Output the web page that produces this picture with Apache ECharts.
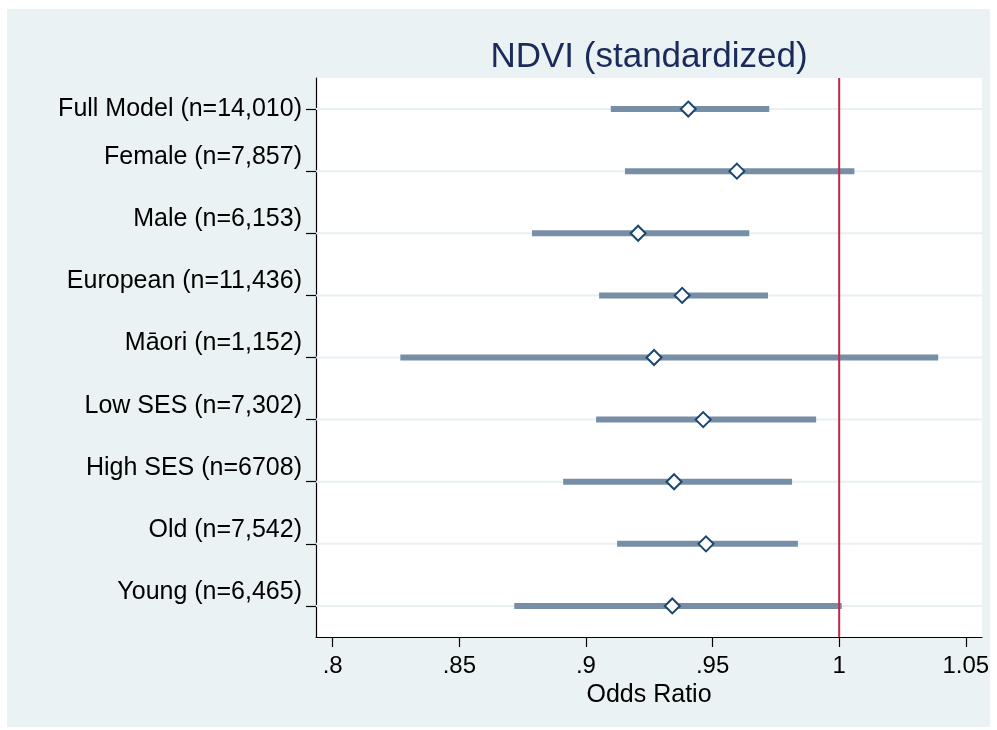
<!DOCTYPE html>
<html>
<head>
<meta charset="utf-8">
<script src="https://cdn.jsdelivr.net/npm/echarts@6/dist/echarts.min.js"></script>
<style>
html,body{margin:0;padding:0;background:#fff;}
#chart{width:997px;height:730px;}
</style>
</head>
<body>
<div id="chart"></div>
<script>
const categories = ['Full Model (n=14,010)','Female (n=7,857)','Male (n=6,153)','European (n=11,436)','Māori (n=1,152)','Low SES (n=7,302)','High SES (n=6708)','Old (n=7,542)','Young (n=6,465)'];
const oddsRatio = [0.9404,0.9596,0.9206,0.9380,0.9269,0.9463,0.9348,0.9474,0.9341];
const ciLow     = [0.9098,0.9154,0.8787,0.9052,0.8267,0.9040,0.8910,0.9123,0.8717];
const ciHigh    = [0.9724,1.0060,0.9645,0.9719,1.0391,0.9909,0.9814,0.9837,1.0010];
const xTicks = [0.8,0.85,0.9,0.95,1,1.05];
const refValue = 1;
const titleText = 'NDVI (standardized)';
const xName = 'Odds Ratio';

const FONT = '"Liberation Sans", Arial, sans-serif';
const chart = echarts.init(document.getElementById('chart'), null, {renderer:'canvas'});

function fmt(v){
  let s = String(+v.toFixed(2));
  if (s.startsWith('0.')) s = s.slice(1);
  return s;
}

const ciData = categories.map((c,i)=>[ciLow[i], ciHigh[i], i]);
const gridData = categories.map((c,i)=>[i]);

chart.setOption({
  backgroundColor: '#ffffff',
  animation: false,
  graphic: [{
    type:'rect', z:-10, silent:true,
    shape:{x:7,y:9,width:983,height:718},
    style:{fill:'#eaf2f3'}
  }],
  title: {
    text: titleText,
    left: 649, top: 40, textAlign: 'center', padding: 0,
    textStyle: {fontFamily: FONT, fontSize: 35, fontWeight: 'normal', color: '#1a2a5a'}
  },
  grid: {left:316, top:78, width:666, height:559, show:true, backgroundColor:'#ffffff', borderWidth:0, containLabel:false},
  xAxis: {
    type:'value', min:0.7934, max:1.0564,
    axisLine:{show:true, onZero:false, lineStyle:{color:'#000', width:1.2}},
    axisTick:{show:true, length:10, customValues: xTicks, lineStyle:{color:'#000', width:1.2}},
    axisLabel:{customValues: xTicks, formatter: fmt, fontFamily: FONT, fontSize:24, color:'#000', margin:17},
    splitLine:{show:false},
    name: xName, nameLocation:'middle', nameGap:45,
    nameTextStyle:{fontFamily: FONT, fontSize:25, color:'#000'}
  },
  yAxis: {
    type:'category', data: categories, inverse:true,
    axisLine:{show:true, lineStyle:{color:'#000', width:1.2}},
    axisTick:{show:true, length:10, alignWithLabel:true, lineStyle:{color:'#000', width:1.2}},
    axisLabel:{
      fontFamily: FONT, fontSize:25, color:'#000', margin:14, lineHeight:28,
      formatter: (v, idx) => idx === 0 ? v : v + '\n '
    },
    splitLine:{show:false}
  },
  series: [
    {
      type:'custom', z:1, silent:true,
      data: gridData,
      encode:{y:0},
      renderItem: (params, api) => {
        const y = api.coord([0.8, api.value(0)])[1];
        const cs = params.coordSys;
        return {type:'line', shape:{x1:cs.x, y1:y, x2:cs.x+cs.width, y2:y},
          style:{stroke:'#e8f0f3', lineWidth:2}};
      }
    },
    {
      type:'custom', z:2, silent:true,
      data: ciData,
      encode:{x:[0,1], y:2},
      renderItem: (params, api) => {
        const p1 = api.coord([api.value(0), api.value(2)]);
        const p2 = api.coord([api.value(1), api.value(2)]);
        return {type:'line', shape:{x1:p1[0], y1:p1[1], x2:p2[0], y2:p2[1]},
          style:{stroke:'#778fa6', lineWidth:6, lineCap:'butt'}};
      }
    },
    {
      type:'custom', z:3, silent:true,
      data: [[refValue]],
      encode:{x:0},
      renderItem: (params, api) => {
        const x = api.coord([api.value(0), 0])[0];
        const cs = params.coordSys;
        return {type:'line', shape:{x1:x, y1:cs.y, x2:x, y2:cs.y+cs.height},
          style:{stroke:'#c3284c', lineWidth:2}};
      }
    },
    {
      type:'scatter', z:4, silent:true,
      data: oddsRatio.map((v,i)=>[v, i]),
      symbol:'diamond', symbolSize:[15,15],
      itemStyle:{color:'#ffffff', borderColor:'#1a476f', borderWidth:2, opacity:1}
    }
  ]
});
</script>
</body>
</html>
